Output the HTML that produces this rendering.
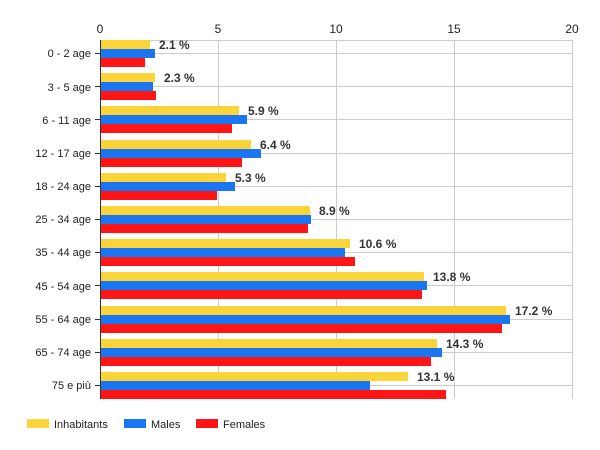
<!DOCTYPE html>
<html><head><meta charset="utf-8"><style>body{margin:0;background:#fff}svg{display:block}</style></head><body>
<svg width="600" height="450" xmlns="http://www.w3.org/2000/svg" font-family="Liberation Sans, Arial, sans-serif">
<g stroke="#cccccc" stroke-width="1">
<line x1="100" y1="40.5" x2="572" y2="40.5"/>
<line x1="100" y1="53.5" x2="572" y2="53.5"/><line x1="100" y1="86.5" x2="572" y2="86.5"/><line x1="100" y1="119.5" x2="572" y2="119.5"/><line x1="100" y1="153.5" x2="572" y2="153.5"/><line x1="100" y1="186.5" x2="572" y2="186.5"/><line x1="100" y1="219.5" x2="572" y2="219.5"/><line x1="100" y1="252.5" x2="572" y2="252.5"/><line x1="100" y1="285.5" x2="572" y2="285.5"/><line x1="100" y1="319.5" x2="572" y2="319.5"/><line x1="100" y1="352.5" x2="572" y2="352.5"/><line x1="100" y1="385.5" x2="572" y2="385.5"/>
<line x1="218.5" y1="40" x2="218.5" y2="399"/><line x1="336.5" y1="40" x2="336.5" y2="399"/><line x1="454.5" y1="40" x2="454.5" y2="399"/><line x1="572.5" y1="40" x2="572.5" y2="399"/>
</g>
<g font-size="12" fill="#222" text-anchor="middle">
<text x="100" y="33">0</text><text x="218" y="33">5</text><text x="336" y="33">10</text><text x="454" y="33">15</text><text x="572" y="33">20</text>
</g>
<g>
<rect x="100" y="40" width="50" height="9" fill="#fbd43a"/><rect x="100" y="49" width="55" height="9" fill="#1a76f0"/><rect x="100" y="58" width="45" height="9" fill="#fe1515"/>
<rect x="100" y="73" width="55" height="9" fill="#fbd43a"/><rect x="100" y="82" width="53" height="9" fill="#1a76f0"/><rect x="100" y="91" width="56" height="9" fill="#fe1515"/>
<rect x="100" y="106" width="139" height="9" fill="#fbd43a"/><rect x="100" y="115" width="147" height="9" fill="#1a76f0"/><rect x="100" y="124" width="132" height="9" fill="#fe1515"/>
<rect x="100" y="140" width="151" height="9" fill="#fbd43a"/><rect x="100" y="149" width="161" height="9" fill="#1a76f0"/><rect x="100" y="158" width="142" height="9" fill="#fe1515"/>
<rect x="100" y="173" width="126" height="9" fill="#fbd43a"/><rect x="100" y="182" width="135" height="9" fill="#1a76f0"/><rect x="100" y="191" width="117" height="9" fill="#fe1515"/>
<rect x="100" y="206" width="210" height="9" fill="#fbd43a"/><rect x="100" y="215" width="211" height="9" fill="#1a76f0"/><rect x="100" y="224" width="208" height="9" fill="#fe1515"/>
<rect x="100" y="239" width="250" height="9" fill="#fbd43a"/><rect x="100" y="248" width="245" height="9" fill="#1a76f0"/><rect x="100" y="257" width="255" height="9" fill="#fe1515"/>
<rect x="100" y="272" width="324" height="9" fill="#fbd43a"/><rect x="100" y="281" width="327" height="9" fill="#1a76f0"/><rect x="100" y="290" width="322" height="9" fill="#fe1515"/>
<rect x="100" y="306" width="406" height="9" fill="#fbd43a"/><rect x="100" y="315" width="410" height="9" fill="#1a76f0"/><rect x="100" y="324" width="402" height="9" fill="#fe1515"/>
<rect x="100" y="339" width="337" height="9" fill="#fbd43a"/><rect x="100" y="348" width="342" height="9" fill="#1a76f0"/><rect x="100" y="357" width="331" height="9" fill="#fe1515"/>
<rect x="100" y="372" width="308" height="9" fill="#fbd43a"/><rect x="100" y="381" width="270" height="9" fill="#1a76f0"/><rect x="100" y="390" width="346" height="9" fill="#fe1515"/>
</g>
<line x1="100.5" y1="40" x2="100.5" y2="399" stroke="#333"/>
<g stroke="#333"><line x1="95" y1="53.5" x2="100" y2="53.5"/><line x1="95" y1="86.5" x2="100" y2="86.5"/><line x1="95" y1="119.5" x2="100" y2="119.5"/><line x1="95" y1="153.5" x2="100" y2="153.5"/><line x1="95" y1="186.5" x2="100" y2="186.5"/><line x1="95" y1="219.5" x2="100" y2="219.5"/><line x1="95" y1="252.5" x2="100" y2="252.5"/><line x1="95" y1="285.5" x2="100" y2="285.5"/><line x1="95" y1="319.5" x2="100" y2="319.5"/><line x1="95" y1="352.5" x2="100" y2="352.5"/><line x1="95" y1="385.5" x2="100" y2="385.5"/></g>
<g font-size="11" fill="#222" text-anchor="end">
<text x="91" y="57">0 - 2 age</text><text x="91" y="91">3 - 5 age</text><text x="91" y="124">6 - 11 age</text><text x="91" y="157">12 - 17 age</text><text x="91" y="190">18 - 24 age</text><text x="91" y="223">25 - 34 age</text><text x="91" y="256">35 - 44 age</text><text x="91" y="290">45 - 54 age</text><text x="91" y="323">55 - 64 age</text><text x="91" y="356">65 - 74 age</text><text x="91" y="389">75 e più</text>
</g>
<g font-size="12" font-weight="bold" fill="#333">
<text x="159" y="49">2.1 %</text><text x="164" y="82">2.3 %</text><text x="248" y="115">5.9 %</text><text x="260" y="149">6.4 %</text><text x="235" y="182">5.3 %</text><text x="319" y="215">8.9 %</text><text x="359" y="248">10.6 %</text><text x="433" y="281">13.8 %</text><text x="515" y="315">17.2 %</text><text x="446" y="348">14.3 %</text><text x="417" y="381">13.1 %</text>
</g>
<rect x="27" y="419" width="22" height="9" fill="#fbd43a"/><rect x="124" y="419" width="22" height="9" fill="#1a76f0"/><rect x="196" y="419" width="22" height="9" fill="#fe1515"/>
<g font-size="11" fill="#222"><text x="54" y="428">Inhabitants</text><text x="151" y="428">Males</text><text x="223" y="428">Females</text></g>
</svg>
</body></html>
